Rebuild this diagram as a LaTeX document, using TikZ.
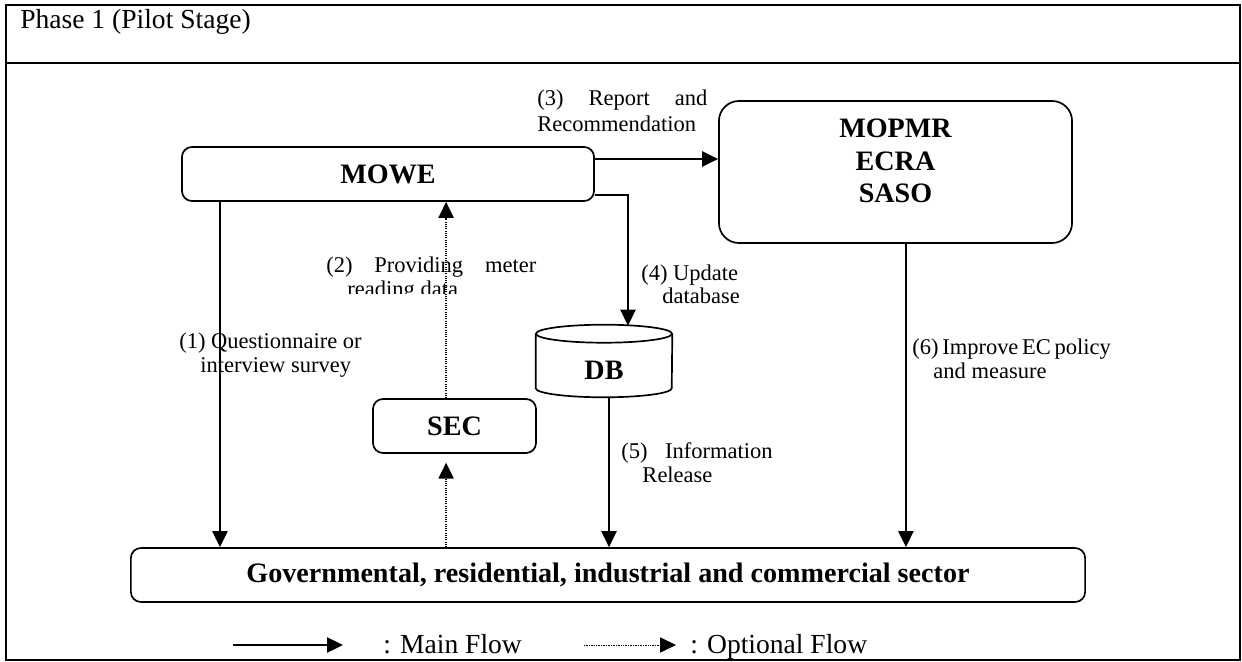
\documentclass[tikz,border=0pt]{standalone}
\usepackage{fontspec}
\setmainfont{Liberation Serif}
\usetikzlibrary{arrows.meta, positioning, calc}

\begin{document}
\begin{tikzpicture}[x=0.025cm, y=-0.025cm,
    box/.style={rectangle, rounded corners=0.25cm, draw, line width=1.2pt, align=center, font=\fontsize{20}{23}\selectfont\bfseries},
    flow/.style={line width=1.2pt, -{Triangle[length=0.4cm, width=0.38cm]}},
    optflow/.style={flow, line width=1pt, dash pattern=on 0.8pt off 0.8pt},
    note/.style={anchor=base west, inner sep=0pt, align=left, font=\fontsize{16}{17}\selectfont},
    key/.style={anchor=base west, inner sep=0pt, font=\fontsize{19.6}{21}\selectfont}]
    \useasboundingbox (0,0) rectangle (1242,662);

    % frame with the stage header
    \draw[line width=2pt] (6,5) rectangle (1240,660);
    \draw[line width=2pt] (6,63) -- (1240,63);
    \node[key] (phase) at (20,29) {Phase 1 (Pilot Stage)};

    % bodies
    \node[box, minimum width=10.3cm, minimum height=1.35cm] (mowe) at (388,174) {MOWE};
    \node[box, rounded corners=0.5cm, minimum width=8.825cm, minimum height=3.55cm] (mopmr) at (895.5,172) {};
    \node[font=\fontsize{20}{23}\selectfont\bfseries, align=center] (agencies) at ([yshift=0.275cm]mopmr.center) {MOPMR\\ECRA\\SASO};
    \node[box, minimum width=4.075cm, minimum height=1.35cm] (sec) at (454.5,426) {SEC};
    \node[box, minimum width=23.85cm, minimum height=1.35cm] (sector) at (608,575) {Governmental, residential, industrial and commercial sector};

    % database drum
    \node[minimum width=3.4cm, minimum height=1.35cm, font=\fontsize{20}{23}\selectfont\bfseries] (db) at (604,370) {DB};
    \draw[line width=1.2pt] ($(db.north west)+(0,-9)$) -- ($(db.south west)+(0,-9)$)
        arc[start angle=180, end angle=360, x radius=1.7cm, y radius=0.225cm] -- ($(db.north east)+(0,-9)$);
    \draw[line width=1.2pt] ($(db.north)+(0,-9)$) ellipse[x radius=1.7cm, y radius=0.225cm];

    % main flows
    \draw[flow] ([xshift=-4.2cm]mowe.south) -- ([xshift=-4.2cm]mowe.south |- sector.north);
    \draw[flow] ([yshift=0.375cm]mowe.east) -- ([yshift=0.375cm]mowe.east -| mopmr.west);
    \draw[flow] ([yshift=-0.525cm]mowe.east) -| ($(db.north)+(24,-17)$);
    \draw[flow] ([xshift=0.125cm]db.south) -- ([xshift=0.125cm]db.south |- sector.north);
    \draw[flow] ([xshift=0.26cm]mopmr.south) -- ([xshift=0.26cm]mopmr.south |- sector.north);

    % optional flows
    \draw[optflow, shorten >=0.22cm] ([xshift=-0.21cm]sec.south |- sector.north) -- ([xshift=-0.21cm]sec.south);
    \draw[optflow] ([xshift=-0.21cm]sec.north) -- ([xshift=-0.21cm]sec.north |- mowe.south);

    % flow labels (placed on the baseline of their last line)
    \node[note] (q1) at (179,372) {(1) Questionnaire or\\\hspace*{0.53cm}interview survey};
    \begin{scope}
        \clip (300,240) rectangle (600,294);
        \node[note] (q2) at (326,296) {\makebox[5.25cm][s]{(2) Providing meter}\\\hspace*{0.53cm}reading data};
    \end{scope}
    \node[note, font=\fontsize{16}{18.5}\selectfont] (q3) at (537,132) {\makebox[4.25cm][s]{(3) Report and}\\Recommendation};
    \node[note] (q4) at (641,304) {(4) Update\\\hspace*{0.53cm}database};
    \node[note] (q5) at (621,482) {\makebox[3.78cm][s]{(5) Information}\\\hspace*{0.53cm}Release};
    \node[note] (q6) at (912,378) {\makebox[4.8cm][s]{(6) Improve EC policy}\\\hspace*{0.53cm}and measure};

    % key
    \coordinate (mainA) at (233,645);
    \coordinate (mainB) at (343,645);
    \coordinate (optA) at (584,645);
    \coordinate (optB) at (676,645);
    \draw[flow] (mainA) -- (mainB);
    \draw[optflow, line width=0.6pt, dash pattern=on 0.6pt off 0.6pt] (optA) -- (optB);
    \node[key] (mainkey) at (383,653) {: Main Flow};
    \node[key] (optkey) at (690,653) {: Optional Flow};
\end{tikzpicture}
\end{document}
